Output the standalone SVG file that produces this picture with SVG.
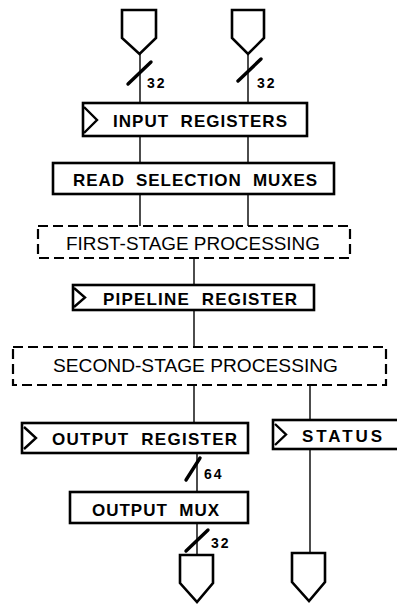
<svg xmlns="http://www.w3.org/2000/svg" width="397" height="605" viewBox="0 0 397 605">
<defs>
<style>
.box{fill:#fff;stroke:#000;stroke-width:2.6}
.dash{fill:none;stroke:#000;stroke-width:2.2;stroke-dasharray:10 5}
.clk{fill:none;stroke:#000;stroke-width:2.4;stroke-linejoin:miter}
.pin{fill:#fff;stroke:#000;stroke-width:2.6;stroke-linejoin:miter}
.wire{stroke:#000;stroke-width:1.4;fill:none}
.slash{stroke:#000;stroke-width:3.4;stroke-linecap:round}
.lb{font-family:"Liberation Sans",Arial,sans-serif;font-weight:bold;font-size:17px;fill:#000;white-space:pre}
.lr{font-family:"Liberation Sans",Arial,sans-serif;font-size:18px;fill:#000}
.num{font-family:"Liberation Sans",Arial,sans-serif;font-weight:bold;font-size:14px;fill:#000;letter-spacing:2px}
</style>
</defs>
<rect width="397" height="605" fill="#fff"/>
<g id="connectors">
<line class="wire" x1="140" y1="54" x2="140" y2="103"/>
<line class="wire" x1="248" y1="54" x2="248" y2="103"/>
<line class="slash" x1="128" y1="84" x2="151" y2="62"/>
<line class="slash" x1="238" y1="81" x2="261" y2="59"/>
<text class="num" x="147" y="88">32</text>
<text class="num" x="257" y="88">32</text>
<line class="wire" x1="140" y1="136" x2="140" y2="163"/>
<line class="wire" x1="248" y1="136" x2="248" y2="163"/>
<line class="wire" x1="140" y1="194" x2="140" y2="226"/>
<line class="wire" x1="248" y1="194" x2="248" y2="226"/>
<line class="wire" x1="194" y1="258" x2="194" y2="285"/>
<line class="wire" x1="194" y1="310" x2="194" y2="347"/>
<line class="wire" x1="194" y1="385" x2="194" y2="423"/>
<line class="wire" x1="310" y1="385" x2="310" y2="420"/>
<line class="wire" x1="197" y1="453" x2="197" y2="492"/>
<line class="slash" x1="186" y1="480" x2="200" y2="458"/>
<text class="num" x="204" y="479">64</text>
<line class="wire" x1="197" y1="523" x2="197" y2="555"/>
<line class="slash" x1="186" y1="551" x2="208" y2="530"/>
<text class="num" x="211" y="548">32</text>
<line class="wire" x1="310" y1="449" x2="310" y2="553"/>
</g>
<g id="in-pin-a"><path class="pin" d="M122,10 V38 L139.5,54 L156,38 V10 Z"/></g>
<g id="in-pin-b"><path class="pin" d="M232,10 V38 L248,54 L264,38 V10 Z"/></g>
<g id="input-registers">
<rect class="box" x="83" y="103" width="224" height="33"/>
<path class="clk" d="M84,107 L97,120 L84,133"/>
<text class="lb" x="113" y="127" textLength="174" lengthAdjust="spacing" xml:space="preserve">INPUT  REGISTERS</text>
</g>
<g id="read-selection-muxes">
<rect class="box" x="53" y="163" width="281" height="31"/>
<text class="lb" x="73" y="186" textLength="244" lengthAdjust="spacing" xml:space="preserve">READ  SELECTION  MUXES</text>
</g>
<g id="first-stage">
<rect class="dash" x="38" y="226" width="312" height="32"/>
<text class="lr" x="66" y="250" textLength="254" lengthAdjust="spacingAndGlyphs">FIRST-STAGE PROCESSING</text>
</g>
<g id="pipeline-register">
<rect class="box" x="73" y="285" width="241" height="25"/>
<path class="clk" d="M74,288 L85,297.5 L74,307"/>
<text class="lb" x="103" y="305" textLength="194" lengthAdjust="spacing" xml:space="preserve">PIPELINE  REGISTER</text>
</g>
<g id="second-stage">
<rect class="dash" x="13" y="347" width="373" height="38"/>
<text class="lr" x="53" y="372" textLength="285" lengthAdjust="spacingAndGlyphs">SECOND-STAGE PROCESSING</text>
</g>
<g id="output-register">
<rect class="box" x="22" y="423" width="226" height="30"/>
<path class="clk" d="M24,427 L36,438 L24,449"/>
<text class="lb" x="52" y="445" textLength="185" lengthAdjust="spacing" xml:space="preserve">OUTPUT  REGISTER</text>
</g>
<g id="status">
<rect class="box" x="273" y="420" width="130" height="29"/>
<path class="clk" d="M275,424 L286,434.5 L275,445"/>
<text class="lb" x="302" y="442" textLength="80" lengthAdjust="spacing">STATUS</text>
</g>
<g id="output-mux">
<rect class="box" x="70" y="492" width="178" height="31"/>
<text class="lb" x="92" y="516" textLength="127" lengthAdjust="spacing" xml:space="preserve">OUTPUT  MUX</text>
</g>
<g id="out-pin-a"><path class="pin" d="M180,555 V583 L197,602 L213,583 V555 Z"/></g>
<g id="out-pin-b"><path class="pin" d="M292,553 V582 L309,601 L325,582 V553 Z"/></g>
</svg>
